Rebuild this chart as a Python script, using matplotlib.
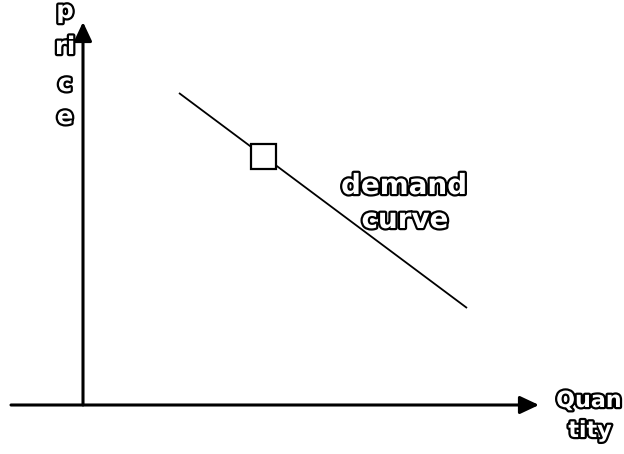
import matplotlib.pyplot as plt
import matplotlib.patheffects as pe
from matplotlib.patches import Rectangle

plt.rcParams["font.family"] = "DejaVu Sans"

# demand line end points (quantity, price), arbitrary units, origin at axes crossing
demand_q = [96, 384]
demand_p = [312, 97]
# marked point on the curve
point_q = 180
point_p = 249

# axis extents
x_axis = [-72, 456]
y_axis = [0, 383]

fig = plt.figure(figsize=(6.24, 4.54), dpi=100)
ax = fig.add_axes([0, 0, 1, 1])
ax.set_xlim(-83, 541)
ax.set_ylim(-49, 405)
ax.axis("off")

arrow = dict(arrowstyle="-|>,head_length=1.15,head_width=0.54", lw=2.2,
             color="black", mutation_scale=10, shrinkA=0, shrinkB=0)
ax.annotate("", xy=(x_axis[1], 0), xytext=(x_axis[0], 0), arrowprops=arrow)
ax.annotate("", xy=(0, y_axis[1]), xytext=(0, y_axis[0]), arrowprops=arrow)

ax.plot(demand_q, demand_p, color="black", lw=1.3, solid_capstyle="butt")
ax.add_patch(Rectangle((point_q - 12.5, point_p - 12.5), 25, 25,
                       facecolor="white", edgecolor="black", lw=1.6, zorder=3))

outline = [pe.withStroke(linewidth=3.2, foreground="black")]

def label(x, y, s, size):
    ax.text(x, y, s, fontsize=size, fontweight="bold", color="white",
            ha="center", va="baseline", path_effects=outline)

# y axis title, broken over lines as in the original
for s, y in [("p", 387), ("ri", 351), ("c", 314), ("e", 281)]:
    label(-18, y, s, 17.5)

label(321, 211, "demand", 20)
label(322, 177, "curve", 20)
label(506, -2, "Quan", 16)
label(507, -32, "tity", 16)

fig.savefig("out.png", dpi=100)
